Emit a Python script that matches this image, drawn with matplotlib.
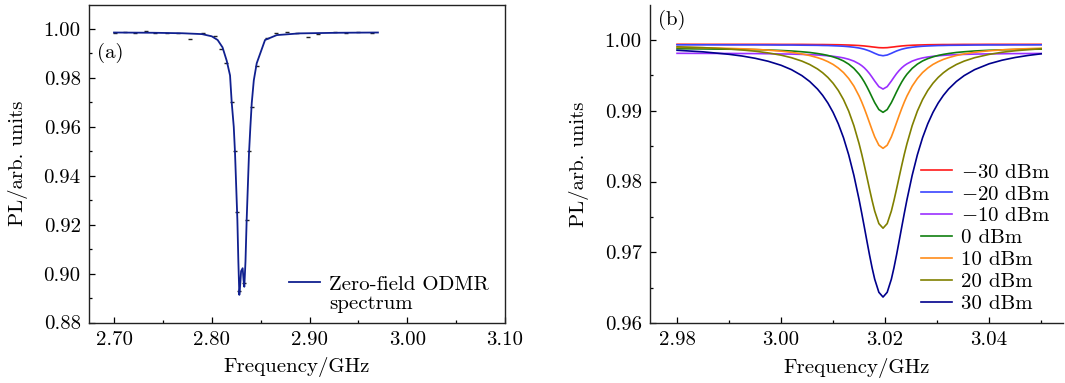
import matplotlib

matplotlib.use("Agg")
import matplotlib.pyplot as plt
from matplotlib.ticker import MultipleLocator, FormatStrFormatter

plt.rcParams["font.family"] = "serif"
plt.rcParams["font.serif"] = ["cmr10"]
plt.rcParams["mathtext.fontset"] = "cm"
plt.rcParams["axes.formatter.use_mathtext"] = True
plt.rcParams["axes.unicode_minus"] = True

W, H, DPI = 1065, 383, 100

# panel (a): zero-field ODMR, fitted curve and measured points
FIT_X = [2.700, 2.740, 2.770, 2.790, 2.800, 2.806, 2.811, 2.8153, 2.8187, 2.8204,
         2.8225, 2.8238, 2.8262, 2.8272, 2.8282, 2.8292, 2.8300, 2.8316, 2.8325,
         2.8333, 2.8345, 2.8357, 2.8381, 2.8395, 2.8409, 2.8430, 2.8460, 2.8545,
         2.8665, 2.890, 2.930, 2.970]
FIT_Y = [0.99855, 0.99845, 0.99825, 0.99790, 0.99700, 0.99550, 0.99250, 0.98700,
         0.98100, 0.97000, 0.96000, 0.94920, 0.92190, 0.90500, 0.89130, 0.89600,
         0.90100, 0.90220, 0.89750, 0.89460, 0.90500, 0.92190, 0.94920, 0.96000,
         0.96970, 0.97900, 0.98600, 0.99550, 0.99750, 0.99820, 0.99845, 0.99855]
DOT_X = [2.7010, 2.7113, 2.7215, 2.7327, 2.7419, 2.7539, 2.7658, 2.7777, 2.7914,
         2.8033, 2.8091, 2.8146, 2.8204, 2.8238, 2.8262, 2.8280, 2.8330, 2.8357,
         2.8381, 2.8409, 2.8460, 2.8562, 2.8657, 2.8767, 2.8869, 2.8988, 2.9090,
         2.9261, 2.9373, 2.9499, 2.9636]
DOT_Y = [0.99853, 0.99868, 0.99840, 0.99935, 0.99840, 0.99853, 0.99826, 0.99610,
         0.99826, 0.99730, 0.99190, 0.98626, 0.97000, 0.95000, 0.92500, 0.89300,
         0.89600, 0.92200, 0.95000, 0.96800, 0.98500, 0.99624, 0.99826, 0.99868,
         0.99853, 0.99665, 0.99800, 0.99894, 0.99853, 0.99868, 0.99826]

# panel (b): ODMR dip vs microwave power
FREQ = [2.9800, 2.9850, 2.9900, 2.9925, 2.9950, 2.9975, 3.0000, 3.0020, 3.0040,
        3.0055, 3.0070, 3.0080, 3.0090, 3.0100, 3.0110, 3.0120, 3.0130, 3.0140,
        3.0150, 3.0155, 3.0160, 3.0165, 3.0170, 3.0175, 3.0180, 3.0188, 3.0196,
        3.0204, 3.0212, 3.0217, 3.0222, 3.0227, 3.0232, 3.0237, 3.0242, 3.0252,
        3.0262, 3.0272, 3.0282, 3.0292, 3.0302, 3.0312, 3.0322, 3.0337, 3.0352,
        3.0372, 3.0400, 3.0425, 3.0450, 3.0475, 3.0500]
PL_M30 = [0.99940, 0.99939, 0.99939, 0.99939, 0.99939, 0.99939, 0.99938, 0.99938,
          0.99938, 0.99937, 0.99936, 0.99936, 0.99935, 0.99934, 0.99933, 0.99931,
          0.99929, 0.99926, 0.99922, 0.99919, 0.99916, 0.99912, 0.99908, 0.99903,
          0.99899, 0.99892, 0.99890,
          0.99892, 0.99899, 0.99903, 0.99908, 0.99912, 0.99916, 0.99919, 0.99922,
          0.99926, 0.99929, 0.99931, 0.99933, 0.99934, 0.99935, 0.99936, 0.99936,
          0.99937, 0.99938, 0.99938, 0.99939, 0.99939, 0.99939, 0.99939, 0.99939]
PL_M20 = [0.99932, 0.99932, 0.99931, 0.99931, 0.99931, 0.99930, 0.99929, 0.99929,
          0.99927, 0.99926, 0.99925, 0.99923, 0.99922, 0.99919, 0.99916, 0.99912,
          0.99906, 0.99898, 0.99887, 0.99879, 0.99870, 0.99858, 0.99845, 0.99829,
          0.99812, 0.99788, 0.99778,
          0.99788, 0.99812, 0.99829, 0.99845, 0.99858, 0.99870, 0.99879, 0.99887,
          0.99898, 0.99906, 0.99912, 0.99916, 0.99919, 0.99922, 0.99923, 0.99925,
          0.99926, 0.99927, 0.99929, 0.99930, 0.99930, 0.99931, 0.99931, 0.99932]
PL_M10 = [0.99812, 0.99811, 0.99810, 0.99809, 0.99808, 0.99806, 0.99803, 0.99801,
          0.99797, 0.99793, 0.99788, 0.99783, 0.99777, 0.99770, 0.99760, 0.99747,
          0.99728, 0.99702, 0.99663, 0.99638, 0.99607, 0.99569, 0.99525, 0.99474,
          0.99420, 0.99341, 0.99307,
          0.99341, 0.99420, 0.99474, 0.99525, 0.99569, 0.99607, 0.99638, 0.99663,
          0.99702, 0.99728, 0.99747, 0.99760, 0.99770, 0.99777, 0.99783, 0.99788,
          0.99793, 0.99797, 0.99801, 0.99804, 0.99806, 0.99808, 0.99809, 0.99810]
PL_0 = [0.99877, 0.99874, 0.99870, 0.99868, 0.99864, 0.99859, 0.99852, 0.99845,
        0.99834, 0.99824, 0.99809, 0.99797, 0.99782, 0.99762, 0.99737, 0.99704,
        0.99659, 0.99599, 0.99517, 0.99466, 0.99407, 0.99340, 0.99267, 0.99190,
        0.99115, 0.99017, 0.98978,
        0.99017, 0.99115, 0.99190, 0.99267, 0.99340, 0.99407, 0.99466, 0.99517,
        0.99599, 0.99659, 0.99704, 0.99737, 0.99762, 0.99782, 0.99797, 0.99809,
        0.99824, 0.99834, 0.99845, 0.99855, 0.99861, 0.99865, 0.99869, 0.99871]
PL_10 = [0.99897, 0.99891, 0.99882, 0.99876, 0.99868, 0.99857, 0.99843, 0.99826,
         0.99804, 0.99781, 0.99751, 0.99726, 0.99694, 0.99655, 0.99604, 0.99540,
         0.99456, 0.99348, 0.99208, 0.99125, 0.99033, 0.98934, 0.98831, 0.98728,
         0.98631, 0.98513, 0.98469,
         0.98513, 0.98631, 0.98728, 0.98831, 0.98934, 0.99033, 0.99125, 0.99208,
         0.99348, 0.99456, 0.99540, 0.99604, 0.99655, 0.99694, 0.99726, 0.99751,
         0.99781, 0.99804, 0.99826, 0.99848, 0.99861, 0.99871, 0.99878, 0.99884]
PL_20 = [0.99904, 0.99892, 0.99873, 0.99859, 0.99842, 0.99818, 0.99786, 0.99750,
         0.99702, 0.99654, 0.99591, 0.99537, 0.99471, 0.99389, 0.99287, 0.99158,
         0.98995, 0.98789, 0.98534, 0.98388, 0.98229, 0.98063, 0.97894, 0.97731,
         0.97582, 0.97405, 0.97340,
         0.97405, 0.97582, 0.97731, 0.97894, 0.98063, 0.98229, 0.98388, 0.98534,
         0.98789, 0.98995, 0.99158, 0.99287, 0.99389, 0.99471, 0.99537, 0.99591,
         0.99654, 0.99702, 0.99750, 0.99797, 0.99827, 0.99848, 0.99864, 0.99877]
PL_30 = [0.99855, 0.99833, 0.99798, 0.99774, 0.99742, 0.99700, 0.99643, 0.99581,
         0.99497, 0.99414, 0.99307, 0.99217, 0.99109, 0.98977, 0.98816, 0.98619,
         0.98377, 0.98086, 0.97743, 0.97554, 0.97358, 0.97159, 0.96963, 0.96780,
         0.96619, 0.96434, 0.96367,
         0.96434, 0.96619, 0.96780, 0.96963, 0.97159, 0.97358, 0.97554, 0.97743,
         0.98086, 0.98377, 0.98619, 0.98816, 0.98977, 0.99109, 0.99217, 0.99307,
         0.99414, 0.99497, 0.99581, 0.99664, 0.99715, 0.99753, 0.99782, 0.99805]
POWER_LABELS = ["$-$30 dBm", "$-$20 dBm", "$-$10 dBm", "0 dBm", "10 dBm", "20 dBm", "30 dBm"]
POWER_SERIES = [PL_M30, PL_M20, PL_M10, PL_0, PL_10, PL_20, PL_30]
POWER_COLORS = ["#ff1a1a", "#3a44ff", "#9b30ff", "#0f7f0f", "#ff8c1a", "#808000", "#00008c"]

FS = 15


def fx(px):
    return px / W


def fy(py):
    return 1 - py / H


def style_axis(ax):
    ax.tick_params(axis="both", which="both", direction="in", labelsize=FS,
                   top=False, right=False, width=0.9, pad=6)
    ax.tick_params(axis="both", which="major", length=4.5)
    ax.tick_params(axis="both", which="minor", length=2.5)
    for s in ax.spines.values():
        s.set_linewidth(1.0)
        s.set_color("#222222")


def draw_panel_a(fig):
    ax = fig.add_axes([fx(89), fy(322.5), fx(505 - 89), (322.5 - 5) / H])
    ax.plot(DOT_X, DOT_Y, ls="none", marker="_", ms=3, mew=1.0, color="#222222")
    ax.plot(FIT_X, FIT_Y, color="#10208f", lw=1.3, label="Zero-field ODMR")
    ax.set_xlim(2.6744, 3.10)
    ax.set_ylim(0.88, 1.0098)
    ax.xaxis.set_major_locator(MultipleLocator(0.1))
    ax.xaxis.set_minor_locator(MultipleLocator(0.05))
    ax.yaxis.set_major_locator(MultipleLocator(0.02))
    ax.yaxis.set_minor_locator(MultipleLocator(0.01))
    ax.xaxis.set_major_formatter(FormatStrFormatter("%.2f"))
    ax.yaxis.set_major_formatter(FormatStrFormatter("%.2f"))
    style_axis(ax)
    ax.set_xlabel("Frequency/GHz", fontsize=FS, labelpad=6)
    ax.set_ylabel("PL/arb. units", fontsize=FS, labelpad=11)
    ax.text(fx(97), fy(53), "(a)", transform=fig.transFigure, fontsize=FS,
            ha="left", va="center")
    ax.legend(loc="upper left", bbox_to_anchor=(fx(289), fy(275)),
              bbox_transform=fig.transFigure, frameon=False, fontsize=FS,
              handlelength=1.5, handletextpad=0.4, borderpad=0, borderaxespad=0)
    # second line of the legend label
    ax.text(fx(329), fy(304), "spectrum", transform=fig.transFigure, fontsize=FS,
            ha="left", va="center")


def draw_panel_b(fig):
    ax = fig.add_axes([fx(650), fy(323), fx(1063 - 650), (323 - 5) / H])
    for series, label, color in zip(POWER_SERIES, POWER_LABELS, POWER_COLORS):
        ax.plot(FREQ, series, color=color, lw=1.2, label=label)
    ax.set_xlim(2.9748, 3.0542)
    ax.set_ylim(0.96, 1.00495)
    ax.xaxis.set_major_locator(MultipleLocator(0.02))
    ax.xaxis.set_minor_locator(MultipleLocator(0.01))
    ax.yaxis.set_major_locator(MultipleLocator(0.01))
    ax.yaxis.set_minor_locator(MultipleLocator(0.005))
    ax.xaxis.set_major_formatter(FormatStrFormatter("%.2f"))
    ax.yaxis.set_major_formatter(FormatStrFormatter("%.2f"))
    ax.spines["top"].set_visible(False)
    ax.spines["right"].set_visible(False)
    style_axis(ax)
    ax.set_xlabel("Frequency/GHz", fontsize=FS, labelpad=6)
    ax.set_ylabel("PL/arb. units", fontsize=FS, labelpad=11)
    ax.text(fx(658), fy(20), "(b)", transform=fig.transFigure, fontsize=FS,
            ha="left", va="center")
    ax.legend(loc="upper left", bbox_to_anchor=(fx(921), fy(163)),
              bbox_transform=fig.transFigure, frameon=False, fontsize=FS,
              handlelength=1.5, handletextpad=0.43, labelspacing=0.16,
              borderpad=0, borderaxespad=0)


def main():
    fig = plt.figure(figsize=(W / DPI, H / DPI), dpi=DPI, facecolor="white")
    draw_panel_a(fig)
    draw_panel_b(fig)
    fig.savefig("out.png", dpi=DPI, facecolor="white")
    plt.close(fig)


if __name__ == "__main__":
    main()
